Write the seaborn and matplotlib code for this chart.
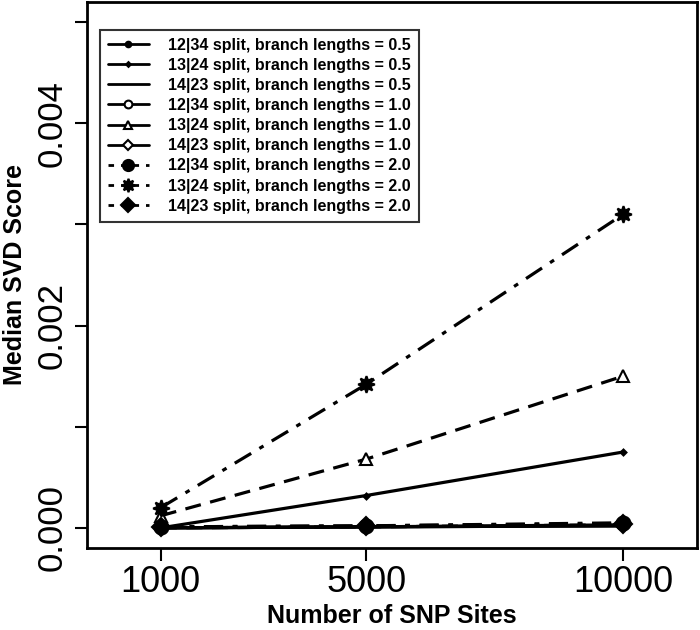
import pandas as pd
import seaborn as sns
import matplotlib.pyplot as plt
from matplotlib.lines import Line2D

# number of SNP sites
sites = [1000, 5000, 10000]

# median SVD score per split / branch length
s12_34_05 = [0.0, 0.00001, 0.00002]
s13_24_05 = [0.0, 0.00032, 0.00075]
s14_23_05 = [0.0, 0.00001, 0.00002]
s12_34_10 = [0.0, 0.00001, 0.00003]
s13_24_10 = [0.00012, 0.00068, 0.0015]
s14_23_10 = [0.0, 0.00001, 0.00003]
s12_34_20 = [0.00001, 0.00002, 0.00005]
s13_24_20 = [0.00020, 0.00142, 0.0031]
s14_23_20 = [0.00001, 0.00002, 0.00004]

labels = [
    "12|34 split, branch lengths = 0.5",
    "13|24 split, branch lengths = 0.5",
    "14|23 split, branch lengths = 0.5",
    "12|34 split, branch lengths = 1.0",
    "13|24 split, branch lengths = 1.0",
    "14|23 split, branch lengths = 1.0",
    "12|34 split, branch lengths = 2.0",
    "13|24 split, branch lengths = 2.0",
    "14|23 split, branch lengths = 2.0",
]
series = [s12_34_05, s13_24_05, s14_23_05, s12_34_10, s13_24_10,
          s14_23_10, s12_34_20, s13_24_20, s14_23_20]

star = (8, 1, 0)
# (marker, markersize, filled, linestyle in plot, linestyle in legend)
styles = [
    ("o", 5, True, "-", "-"),
    ("D", 3, True, "-", "-"),
    ("", 0, True, "-", "-"),
    ("o", 7, False, (0, (5, 3)), "-"),
    ("^", 8, False, (0, (5, 3)), "-"),
    ("D", 6, False, "-", "-"),
    ("o", 10, True, (0, (6, 3, 1.5, 3)), (0, (2, 2.5))),
    (star, 12, True, (0, (6, 3, 1.5, 3)), (0, (2, 2.5))),
    ("D", 9, True, (0, (6, 3, 1.5, 3)), (0, (2, 2.5))),
]

rows = []
for lab, vals in zip(labels, series):
    for x, y in zip(sites, vals):
        rows.append({"sites": x, "score": y, "series": lab})
df = pd.DataFrame(rows)

sns.set_style("ticks")
plt.rcParams["font.family"] = ["Liberation Sans", "DejaVu Sans"]
plt.rcParams["text.color"] = "black"
plt.rcParams["axes.labelcolor"] = "black"
plt.rcParams["xtick.color"] = "black"
plt.rcParams["ytick.color"] = "black"

fig = plt.figure(figsize=(7, 6.3), dpi=100)
ax = fig.add_axes([0.124, 0.130, 0.872, 0.867])

for lab, (mk, ms, filled, ls, _) in zip(labels, styles):
    sub = df[df["series"] == lab]
    sns.lineplot(data=sub, x="sites", y="score", ax=ax, color="black",
                 linewidth=2.3, linestyle=ls, marker=mk if mk else None,
                 markersize=ms, markerfacecolor="black" if filled else "white",
                 markeredgecolor="black", markeredgewidth=1.5, legend=False)

ax.set_xlim(-440, 11440)
ax.set_ylim(-0.0002, 0.0052)
ax.set_xticks(sites)
ax.set_xticklabels(["1000", "5000", "10000"], fontsize=26)
ax.set_yticks([0, 0.001, 0.002, 0.003, 0.004, 0.005])
ax.set_yticklabels(["0.000", "", "0.002", "", "0.004", ""], fontsize=25,
                   rotation=90, va="center")
ax.tick_params(axis="both", direction="out", length=9, width=1.5,
               color="black", labelcolor="black")
ax.tick_params(axis="y", pad=4)
ax.tick_params(axis="x", pad=3)
ax.set_xlabel("Number of SNP Sites", fontsize=18, fontweight="bold",
              labelpad=3)
ax.set_ylabel("Median SVD Score", fontsize=18, fontweight="bold", labelpad=6)
for sp in ax.spines.values():
    sp.set_visible(True)
    sp.set_linewidth(2)
    sp.set_color("black")

handles = []
for (mk, ms, filled, _, lls) in styles:
    handles.append(Line2D([], [], color="black", linewidth=2, linestyle=lls,
                          marker=mk if mk else None, markersize=ms * 0.8,
                          markerfacecolor="black" if filled else "white",
                          markeredgecolor="black", markeredgewidth=1.5))
leg = ax.legend(handles, labels, loc="upper left",
                bbox_to_anchor=(0.021, 0.949), borderaxespad=0, fontsize=11.5,
                frameon=True, fancybox=False, handlelength=2.6,
                labelspacing=0.32, handletextpad=1.2, borderpad=0.5)
leg.get_frame().set_edgecolor("black")
leg.get_frame().set_linewidth(1.5)
for t in leg.get_texts():
    t.set_fontweight("bold")
    t.set_color("black")

plt.savefig("out.png", dpi=100)
